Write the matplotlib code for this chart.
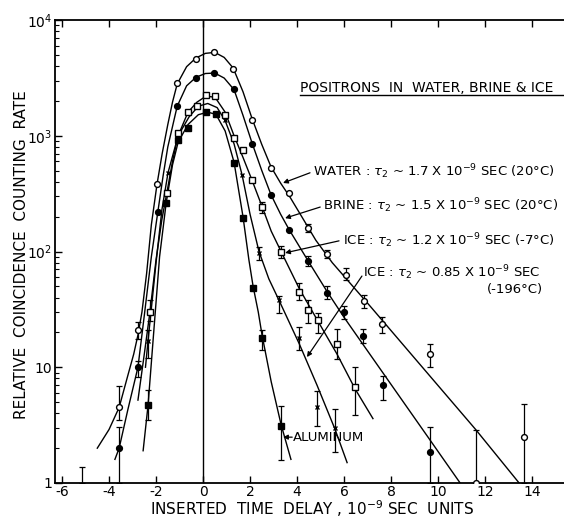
import matplotlib
matplotlib.use("Agg")
import matplotlib.pyplot as plt
import numpy as np

plt.rcParams["font.family"] = ["DejaVu Sans"]
plt.rcParams["mathtext.fontset"] = "dejavusans"

# measured points: water (open circles)
water_x = [-3.57, -2.77, -1.96, -1.1, -0.3, 0.47, 1.28, 2.09, 2.89, 3.66, 4.47, 5.28, 6.09, 6.85, 7.62, 9.66, 11.6, 13.66]
water_y = [4.5, 21, 380, 2850, 4600, 5270, 3800, 1380, 530, 320, 160, 95, 63, 37, 23.6, 13, 1.0, 2.5]
water_bar_x = [-3.57, -2.77, 4.47, 5.28, 6.09, 6.85, 7.62, 9.66, 11.6, 13.66]
water_bar_lo = [3.5, 17.5, 147, 88, 57, 32.5, 19.8, 10.0, 1.0, 1.0]
water_bar_hi = [6.9, 24.6, 173, 103, 72, 42, 27.2, 15.9, 2.87, 4.8]

# brine (filled circles)
brine_x = [-3.57, -2.77, -1.91, -1.1, -0.3, 0.47, 1.32, 2.09, 2.89, 3.66, 4.47, 5.28, 6.0, 6.81, 7.66, 9.66]
brine_y = [2.0, 10, 218, 1810, 3160, 3480, 2520, 850, 309, 154, 83, 44, 30, 18.6, 7.0, 1.85]
brine_bar_x = [-3.57, -2.77, 4.47, 5.28, 6.0, 6.81, 7.66, 9.66]
brine_bar_lo = [1.0, 8.2, 75, 39, 26, 16.2, 5.2, 1.0]
brine_bar_hi = [3.05, 11.3, 92, 50, 34, 21.4, 8.4, 3.05]

# ice at -7 C (open squares)
ice7_x = [-2.26, -1.53, -1.06, -0.64, -0.26, 0.13, 0.51, 0.94, 1.32, 1.70, 2.09, 2.51, 3.32, 4.09, 4.47, 4.89, 5.7, 6.47]
ice7_y = [30, 320, 1050, 1600, 1810, 2240, 2200, 1500, 950, 755, 415, 242, 99, 45, 31, 25.6, 16, 6.7]
ice7_bar_x = [-2.26, 2.51, 3.32, 4.09, 4.47, 4.89, 5.7, 6.47]
ice7_bar_lo = [25, 215, 88, 38, 24.1, 19.8, 11.8, 3.9]
ice7_bar_hi = [38, 270, 112, 53, 38, 29.4, 21.4, 10.0]

# ice at -196 C (crosses)
ice196_x = [-2.34, -1.49, 0.94, 1.66, 2.38, 3.23, 4.09, 4.85, 5.62]
ice196_y = [17, 480, 1370, 460, 97, 38, 18, 4.5, 3.0]
ice196_bar_x = [-2.34, 2.38, 3.23, 4.09, 4.85, 5.62]
ice196_bar_lo = [12, 85, 29.4, 14.1, 3.1, 1.85]
ice196_bar_hi = [21, 110, 41, 22.3, 6.2, 4.36]

# aluminum reference (filled squares)
alum_x = [-2.34, -1.57, -1.06, -0.64, 0.13, 0.55, 1.32, 1.70, 2.13, 2.51, 3.32]
alum_y = [4.7, 262, 915, 1170, 1590, 1550, 580, 195, 48, 18, 3.1]
alum_bar_x = [-2.34, 2.51, 3.32]
alum_bar_lo = [3.5, 14.1, 1.58]
alum_bar_hi = [6.4, 21, 4.6]

# stray bar near the left edge
stray_bar_x = [-5.15]
stray_bar_lo = [1.0]
stray_bar_hi = [1.37]

# hand-drawn fit curves
water_cx = [-4.5, -4.0, -3.57, -3.2, -2.95, -2.77, -2.6, -2.4, -2.2, -1.96, -1.74, -1.5, -1.3, -1.1, -0.7, -0.3, 0.1, 0.5, 0.9, 1.28, 1.7, 2.09, 2.5, 2.89, 3.3, 3.7, 4.2, 4.8, 5.5, 7.15, 9.0, 11.6, 13.45]
water_cy = [2.0, 2.9, 4.5, 8.5, 13, 19, 30, 65, 170, 380, 700, 1250, 1950, 2800, 3950, 4700, 5150, 5250, 4750, 3850, 2400, 1400, 840, 540, 390, 295, 200, 125, 80, 33, 12, 2.9, 1.0]
brine_cx = [-3.75, -3.57, -3.2, -2.77, -2.5, -2.2, -1.91, -1.7, -1.5, -1.1, -0.7, -0.3, 0.1, 0.5, 0.9, 1.32, 1.7, 2.09, 2.5, 2.89, 3.3, 3.66, 4.47, 5.28, 6.0, 7.06, 9.66, 10.94]
brine_cy = [1.6, 2.0, 4.3, 10, 28, 90, 230, 450, 800, 1800, 2700, 3200, 3450, 3480, 3150, 2500, 1500, 860, 500, 310, 210, 155, 83, 45, 27, 13.3, 2.35, 1.0]
ice7_cx = [-2.77, -2.5, -2.26, -2.0, -1.75, -1.53, -1.3, -1.06, -0.64, -0.26, 0.13, 0.51, 0.94, 1.32, 1.7, 2.09, 2.51, 2.9, 3.32, 4.09, 4.89, 5.7, 6.47, 7.23]
ice7_cy = [5.2, 13, 30, 85, 190, 330, 600, 1000, 1600, 1950, 2200, 2150, 1600, 1000, 650, 410, 245, 150, 100, 48, 25, 13, 6.5, 3.6]
ice196_cx = [-2.45, -2.34, -2.0, -1.75, -1.49, -1.06, -0.6, -0.2, 0.2, 0.6, 0.94, 1.32, 1.66, 2.0, 2.38, 2.8, 3.23, 4.09, 4.85, 5.62, 6.13]
ice196_cy = [10, 17, 80, 230, 480, 1000, 1450, 1800, 1900, 1750, 1350, 850, 460, 210, 100, 58, 38, 16, 7, 2.9, 1.5]
alum_cx = [-2.55, -2.34, -2.1, -1.85, -1.57, -1.3, -1.06, -0.64, -0.2, 0.2, 0.55, 0.94, 1.32, 1.7, 1.95, 2.13, 2.35, 2.51, 2.9, 3.32, 3.74]
alum_cy = [1.9, 4.7, 20, 90, 262, 560, 880, 1250, 1520, 1600, 1530, 1100, 590, 200, 85, 50, 30, 19, 7.5, 3.2, 1.6]

x_ticks = [-6, -4, -2, 0, 2, 4, 6, 8, 10, 12, 14]
y_ticks = [1, 10, 100, 1000, 10000]
y_tick_labels = ["1", "10", "10$^2$", "10$^3$", "10$^4$"]

fig = plt.figure(figsize=(5.64, 5.19), dpi=100)
ax = fig.add_axes([55 / 564, 36 / 519, 509 / 564, 463 / 519])
ax.set_yscale("log")
ax.set_xlim(-6.30, 15.36)
ax.set_ylim(1, 1e4)

ax.axvline(0, color="black", lw=1.0)

line_kw = dict(color="black", lw=1.0)
bar_kw = dict(fmt="none", ecolor="black", elinewidth=0.9, capsize=2.2, capthick=0.9)

series = [
    (water_cx, water_cy, water_x, water_y, dict(marker="o", ms=4.2, mfc="white"),
     water_bar_x, water_bar_lo, water_bar_hi),
    (brine_cx, brine_cy, brine_x, brine_y, dict(marker="o", ms=4.2, mfc="black"),
     brine_bar_x, brine_bar_lo, brine_bar_hi),
    (ice7_cx, ice7_cy, ice7_x, ice7_y, dict(marker="s", ms=4.0, mfc="white"),
     ice7_bar_x, ice7_bar_lo, ice7_bar_hi),
    (ice196_cx, ice196_cy, ice196_x, ice196_y, dict(marker="x", ms=3.2, mew=1.0),
     ice196_bar_x, ice196_bar_lo, ice196_bar_hi),
    (alum_cx, alum_cy, alum_x, alum_y, dict(marker="s", ms=4.0, mfc="black"),
     alum_bar_x, alum_bar_lo, alum_bar_hi),
]

for cx, cy, px, py, mk, bx, blo, bhi in series:
    ax.plot(cx, cy, **line_kw)
    blo = np.array(blo)
    bhi = np.array(bhi)
    ax.errorbar(bx, blo, yerr=[np.zeros_like(blo), bhi - blo], **bar_kw)
    ax.plot(px, py, linestyle="none", color="black", mec="black", zorder=4, **mk)

slo = np.array(stray_bar_lo)
shi = np.array(stray_bar_hi)
ax.errorbar(stray_bar_x, slo, yerr=[np.zeros_like(slo), shi - slo], **bar_kw)

# axes styling
ax.set_xticks(x_ticks)
ax.set_xticklabels([str(t) for t in x_ticks])
ax.set_yticks(y_ticks)
ax.set_yticklabels(y_tick_labels)
ax.tick_params(axis="both", which="major", direction="in", length=5, width=1.0,
               labelsize=10, top=True, right=False)
ax.tick_params(axis="y", which="minor", direction="in", length=3, width=0.8, right=False)
ax.tick_params(axis="x", which="minor", bottom=False, top=False)
ax.tick_params(axis="y", pad=2)
ax.tick_params(axis="x", pad=1.5)
ax.spines["right"].set_visible(False)
for s in ("left", "bottom", "top"):
    ax.spines[s].set_linewidth(1.3)

fig.text(150 / 564, 1 - 509 / 519,
         "INSERTED  TIME  DELAY , 10$^{-9}$ SEC  UNITS",
         fontsize=11, ha="left", va="center")
fig.text(22 / 564, 1 - 255 / 519,
         "RELATIVE  COINCIDENCE  COUNTING  RATE",
         fontsize=11, rotation=90, ha="center", va="center")

# annotations
tfs = 9.5
ax.text(0.481, 0.854, "POSITRONS  IN  WATER, BRINE & ICE", transform=ax.transAxes,
        fontsize=10, ha="left", va="center")
ax.plot([0.481, 1.0], [0.838, 0.838], transform=ax.transAxes, color="black", lw=1.0,
        clip_on=False)

arrow_kw = dict(arrowstyle="-|>", color="black", lw=0.9, mutation_scale=7,
                shrinkA=0, shrinkB=0)

ax.text(0.507, 0.672, r"WATER : $\tau_2$ ~ 1.7 X 10$^{-9}$ SEC (20°C)",
        transform=ax.transAxes, fontsize=tfs, ha="left", va="center")
ax.annotate("", xy=(0.448, 0.648), xytext=(0.501, 0.670), xycoords="axes fraction",
            textcoords="axes fraction", arrowprops=arrow_kw)

ax.text(0.527, 0.598, r"BRINE : $\tau_2$ ~ 1.5 X 10$^{-9}$ SEC (20°C)",
        transform=ax.transAxes, fontsize=tfs, ha="left", va="center")
ax.annotate("", xy=(0.452, 0.572), xytext=(0.521, 0.596), xycoords="axes fraction",
            textcoords="axes fraction", arrowprops=arrow_kw)

ax.text(0.566, 0.523, r"ICE : $\tau_2$ ~ 1.2 X 10$^{-9}$ SEC (-7°C)",
        transform=ax.transAxes, fontsize=tfs, ha="left", va="center")
ax.annotate("", xy=(0.452, 0.497), xytext=(0.558, 0.523), xycoords="axes fraction",
            textcoords="axes fraction", arrowprops=arrow_kw)

ax.text(0.605, 0.454, r"ICE : $\tau_2$ ~ 0.85 X 10$^{-9}$ SEC",
        transform=ax.transAxes, fontsize=tfs, ha="left", va="center")
ax.text(0.849, 0.419, "(-196°C)", transform=ax.transAxes, fontsize=tfs,
        ha="left", va="center")
ax.annotate("", xy=(0.495, 0.272), xytext=(0.603, 0.447), xycoords="axes fraction",
            textcoords="axes fraction", arrowprops=arrow_kw)

ax.text(0.468, 0.099, "ALUMINUM", transform=ax.transAxes, fontsize=tfs,
        ha="left", va="center")
ax.annotate("", xy=(0.448, 0.099), xytext=(0.466, 0.099), xycoords="axes fraction",
            textcoords="axes fraction", arrowprops=arrow_kw)

fig.savefig("out.png", dpi=100)
